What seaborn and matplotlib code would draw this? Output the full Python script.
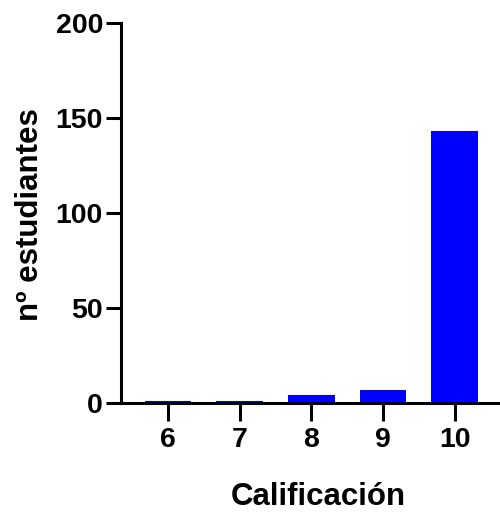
import matplotlib
matplotlib.use("Agg")
import matplotlib.pyplot as plt
import seaborn as sns
import pandas as pd

# data
grades = ["6", "7", "8", "9", "10"]
students = [1, 1, 4, 7, 143]
y_ticks = [0, 50, 100, 150, 200]

df = pd.DataFrame({"grade": grades, "n": students})

sns.set_theme(style="white")
plt.rcParams["font.family"] = ["Liberation Sans", "DejaVu Sans"]
plt.rcParams["font.weight"] = "bold"
plt.rcParams["text.color"] = "black"
plt.rcParams["axes.labelcolor"] = "black"

fig = plt.figure(figsize=(5.0, 5.13), dpi=100)
ax = fig.add_axes([0.242, 0.2144, 0.758, 0.7407])

sns.barplot(data=df, x="grade", y="n", order=grades, color="#0000FF",
            saturation=1, width=0.65, edgecolor="none", ax=ax)

ax.set_xlim(-0.653, 4.63)
ax.set_ylim(0, 200)
ax.set_yticks(y_ticks)

for side in ["top", "right"]:
    ax.spines[side].set_visible(False)
for side in ["left", "bottom"]:
    ax.spines[side].set_linewidth(2.2)
    ax.spines[side].set_color("black")
    ax.spines[side].set_capstyle("projecting")

ax.tick_params(axis="x", direction="out", length=13, width=2.2, pad=4,
               labelsize=20.5, colors="black", bottom=True)
ax.tick_params(axis="y", direction="out", length=11, width=2.2, pad=2,
               labelsize=20.5, colors="black", left=True)
for lab in ax.get_xticklabels() + ax.get_yticklabels():
    lab.set_fontweight("bold")

ax.set_xlabel("Calificación", fontsize=22.5, fontweight="bold")
ax.set_ylabel("nº estudiantes", fontsize=22.5, fontweight="bold")
ax.xaxis.set_label_coords(0.521, -0.208)
ax.yaxis.set_label_coords(-0.201, 0.495)

fig.savefig("out.png", dpi=100)
